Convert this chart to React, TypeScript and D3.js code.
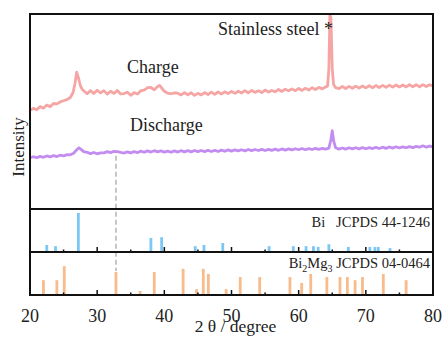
import { useEffect, useRef } from "react";
import * as d3 from "d3";

// XRD patterns, [2θ, intensity (a.u.)]
const chargePattern: [number, number][] = [
    [20.0, 50.6], [20.5, 51.6], [21.0, 50.9], [21.5, 52.5], [22.0, 51.7], [22.5, 53.3], [23.0, 52.5],
    [23.5, 54.1], [24.0, 53.9], [24.5, 54.9], [25.0, 55.5], [25.5, 56.1], [26.0, 57.2], [26.4, 59.6],
    [26.7, 64.5], [26.95, 70.2], [27.2, 67.5], [27.5, 63.2], [27.8, 61.3], [28.2, 60.0], [28.5, 59.1],
    [29.0, 60.7], [29.5, 59.2], [30.0, 60.9], [30.5, 59.5], [31.0, 60.7], [31.5, 58.9], [32.0, 60.4],
    [32.5, 59.3], [33.0, 60.8], [33.5, 59.0], [34.0, 59.2], [34.5, 59.9], [35.0, 58.3], [35.5, 59.7],
    [36.0, 59.0], [36.5, 60.7], [37.0, 61.0], [37.5, 62.2], [38.0, 62.3], [38.5, 61.1], [39.0, 62.8],
    [39.3, 63.4], [39.7, 61.6], [40.0, 60.4], [40.5, 59.4], [41.0, 59.1], [41.5, 59.5], [42.0, 59.4],
    [42.5, 58.5], [43.0, 59.7], [43.5, 58.6], [44.0, 59.6], [44.5, 58.3], [45.0, 59.3], [45.5, 58.5],
    [46.0, 59.7], [46.5, 58.7], [47.0, 59.9], [47.5, 58.8], [48.0, 60.0], [48.5, 59.0], [49.0, 60.1],
    [49.5, 59.2], [50.0, 60.3], [50.5, 59.3], [51.0, 60.4], [51.5, 59.5], [52.0, 60.7], [52.5, 59.6],
    [53.0, 60.8], [53.5, 59.8], [54.0, 60.6], [54.5, 59.7], [55.0, 61.0], [55.5, 60.0], [56.0, 60.8],
    [56.5, 60.1], [57.0, 61.3], [57.5, 60.3], [58.0, 61.4], [58.5, 60.6], [59.0, 61.6], [59.5, 60.7],
    [60.0, 61.8], [60.5, 60.8], [61.0, 61.9], [61.5, 61.0], [62.0, 62.2], [62.5, 61.3], [63.0, 62.4],
    [63.5, 61.6], [64.0, 62.6], [64.3, 63.0], [64.5, 72.0], [64.65, 100], [64.8, 98.0], [65.0, 72.0],
    [65.2, 63.8], [65.5, 62.2], [66.0, 61.7], [66.5, 62.8], [67.0, 61.8], [67.5, 62.9], [68.0, 61.9],
    [68.5, 63.0], [69.0, 62.0], [69.5, 63.1], [70.0, 62.1], [70.5, 63.2], [71.0, 62.2], [71.5, 63.3],
    [72.0, 62.3], [72.5, 63.4], [73.0, 62.4], [73.5, 63.5], [74.0, 62.5], [74.5, 63.6], [75.0, 62.6],
    [75.5, 63.6], [76.0, 62.6], [76.5, 63.7], [77.0, 62.7], [77.5, 63.7], [78.0, 62.7], [78.5, 63.8],
    [79.0, 62.8], [79.5, 63.7], [80.0, 63.1],
];

const dischargePattern: [number, number][] = [
    [20.0, 26.3], [20.5, 26.8], [21.0, 26.3], [21.5, 27.0], [22.0, 26.5], [22.5, 27.2], [23.0, 26.7],
    [23.5, 27.4], [24.0, 26.9], [24.5, 27.6], [25.0, 27.2], [25.5, 27.9], [26.0, 27.8], [26.5, 28.6],
    [26.9, 30.2], [27.3, 31.4], [27.6, 30.6], [28.0, 29.4], [28.5, 29.1], [29.0, 28.4], [29.5, 29.0],
    [30.0, 28.3], [30.5, 28.8], [31.0, 28.8], [31.5, 29.4], [32.0, 28.9], [32.5, 29.6], [33.0, 29.4],
    [33.5, 29.0], [34.0, 28.7], [34.5, 29.3], [35.0, 28.8], [35.5, 29.4], [36.0, 28.9], [36.5, 29.7],
    [37.0, 29.1], [37.5, 29.8], [38.0, 29.2], [38.5, 29.9], [39.0, 29.3], [39.5, 29.8], [40.0, 29.2],
    [40.5, 29.7], [41.0, 29.1], [41.5, 29.8], [42.0, 29.2], [42.5, 29.9], [43.0, 29.3], [43.5, 29.9],
    [44.0, 29.3], [44.5, 30.0], [45.0, 29.4], [45.5, 30.0], [46.0, 29.4], [46.5, 30.1], [47.0, 29.5],
    [47.5, 30.1], [48.0, 29.5], [48.5, 30.2], [49.0, 29.6], [49.5, 30.3], [50.0, 29.7], [50.5, 30.3],
    [51.0, 29.8], [51.5, 30.4], [52.0, 29.8], [52.5, 30.5], [53.0, 29.9], [53.5, 30.5], [54.0, 30.0],
    [54.5, 30.6], [55.0, 30.0], [55.5, 30.6], [56.0, 30.1], [56.5, 30.7], [57.0, 30.1], [57.5, 30.8],
    [58.0, 30.2], [58.5, 30.8], [59.0, 30.3], [59.5, 30.9], [60.0, 30.4], [60.5, 31.0], [61.0, 30.4],
    [61.5, 31.0], [62.0, 30.5], [62.5, 31.1], [63.0, 30.6], [63.5, 31.1], [64.0, 30.7], [64.5, 31.2],
    [64.8, 35.5], [65.0, 40.2], [65.2, 35.0], [65.5, 31.4], [66.0, 30.7], [66.5, 31.3], [67.0, 30.7],
    [67.5, 31.4], [68.0, 30.8], [68.5, 31.4], [69.0, 30.8], [69.5, 31.5], [70.0, 30.9], [70.5, 31.5],
    [71.0, 31.0], [71.5, 31.6], [72.0, 31.0], [72.5, 31.7], [73.0, 31.1], [73.5, 31.8], [74.0, 31.2],
    [74.5, 31.9], [75.0, 31.3], [75.5, 31.9], [76.0, 31.4], [76.5, 32.0], [77.0, 31.5], [77.5, 32.1],
    [78.0, 31.7], [78.5, 32.4], [79.0, 31.7], [79.5, 32.3], [80.0, 31.9],
];

// reference cards: 2θ and relative intensity
const biPositions = [22.5, 23.8, 27.2, 38.0, 39.6, 44.6, 45.9, 48.7, 55.6, 59.2, 61.1, 62.2, 62.9, 64.5, 67.4, 70.6, 71.35, 71.85, 73.6];
const biIntensity = [18, 15, 100, 36, 38, 15, 18, 23, 15, 15, 15, 15, 13, 20, 13, 13, 13, 13, 10];

const bi2mg3Positions = [22.0, 24.0, 25.1, 32.8, 36.4, 38.5, 42.8, 44.8, 45.8, 46.55, 49.2, 51.3, 54.2, 58.7, 60.45, 61.8, 64.2, 66.15, 67.25, 68.4, 69.5, 72.6, 76.0];
const bi2mg3Intensity = [38, 38, 74, 59, 10, 59, 67, 15, 67, 54, 15, 46, 46, 46, 31, 54, 46, 46, 46, 38, 46, 54, 38];

const xTicks = [20, 30, 40, 50, 60, 70, 80];
const minorTicks = [25, 35, 45, 55, 65, 75];
const markerAngle = 32.8;

const W = 443;
const H = 338;
const left = 30;
const right = 433;
const top = 14;
const panel1Bottom = 209;
const panel2Bottom = 252;
const panel3Bottom = 295;

const font = "'Liberation Serif', 'Times New Roman', serif";

const App = () => {
    const ref = useRef<SVGSVGElement>(null);

    useEffect(() => {
        if (!ref.current) return;
        const svg = d3.select(ref.current);
        svg.selectAll("*").remove();

        const x = d3.scaleLinear().domain([20, 80]).range([left, right]);
        const yTop = d3.scaleLinear().domain([0, 100]).range([panel1Bottom, top]);
        // stick patterns share one intensity scale, 100 -> 39px
        const stickH = d3.scaleLinear().domain([0, 100]).range([0, 39]);

        svg.append("defs")
            .append("clipPath")
            .attr("id", "plotClip")
            .append("rect")
            .attr("x", left)
            .attr("y", top)
            .attr("width", right - left)
            .attr("height", panel1Bottom - top);

        const line = d3
            .line<[number, number]>()
            .x((d) => x(d[0]))
            .y((d) => yTop(d[1]));

        const curves = [
            { data: chargePattern, color: "#f6a5a5" },
            { data: dischargePattern, color: "#c38cf1" },
        ];
        curves.forEach((c) => {
            svg.append("path")
                .datum(c.data)
                .attr("clip-path", "url(#plotClip)")
                .attr("fill", "none")
                .attr("stroke", c.color)
                .attr("stroke-width", 2.8)
                .attr("stroke-linejoin", "round")
                .attr("d", line);
        });

        // dashed guide at 32.8°
        const dischargeAt = dischargePattern.find((d) => d[0] === 33.0)![1];
        const barIdx = bi2mg3Positions.indexOf(markerAngle);
        svg.append("line")
            .attr("x1", x(markerAngle))
            .attr("x2", x(markerAngle))
            .attr("y1", yTop(dischargeAt) + 4)
            .attr("y2", panel3Bottom - stickH(bi2mg3Intensity[barIdx]) - 1)
            .attr("stroke", "#a8a8a8")
            .attr("stroke-width", 1.3)
            .attr("stroke-dasharray", "5,3");

        const sticks = [
            { pos: biPositions, int: biIntensity, base: panel2Bottom, color: "#7cc7f4" },
            { pos: bi2mg3Positions, int: bi2mg3Intensity, base: panel3Bottom, color: "#f7bb8c" },
        ];
        sticks.forEach((s) => {
            svg.append("g")
                .selectAll("rect")
                .data(s.pos)
                .join("rect")
                .attr("x", (d) => x(d) - 1.4)
                .attr("width", 2.8)
                .attr("y", (d, i) => s.base - stickH(s.int[i]))
                .attr("height", (d, i) => stickH(s.int[i]))
                .attr("fill", s.color);

            // inward ticks on the bottom axis of each card panel
            const g = svg.append("g");
            g.selectAll(".major")
                .data(xTicks.slice(1, -1))
                .join("line")
                .attr("x1", (d) => x(d))
                .attr("x2", (d) => x(d))
                .attr("y1", s.base)
                .attr("y2", s.base - 5)
                .attr("stroke", "#111")
                .attr("stroke-width", 1.5);
            g.selectAll(".minor")
                .data(minorTicks)
                .join("line")
                .attr("x1", (d) => x(d))
                .attr("x2", (d) => x(d))
                .attr("y1", s.base)
                .attr("y2", s.base - 2.5)
                .attr("stroke", "#111")
                .attr("stroke-width", 1.5);
        });

        // frames
        [
            [top, panel1Bottom],
            [panel1Bottom, panel2Bottom],
            [panel2Bottom, panel3Bottom],
        ].forEach(([y0, y1]) => {
            svg.append("rect")
                .attr("x", left)
                .attr("y", y0)
                .attr("width", right - left)
                .attr("height", y1 - y0)
                .attr("fill", "none")
                .attr("stroke", "#111")
                .attr("stroke-width", 2);
        });

        const text = svg.append("g").attr("font-family", font).attr("fill", "#222");

        // x tick labels
        text.selectAll(".xt")
            .data(xTicks)
            .join("text")
            .attr("x", (d) => x(d))
            .attr("y", 322)
            .attr("text-anchor", "middle")
            .attr("font-size", 18)
            .text((d) => d);

        text.append("text")
            .attr("x", (left + right) / 2 + 4)
            .attr("y", 332)
            .attr("text-anchor", "middle")
            .attr("font-size", 17.5)
            .text("2 θ / degree");

        text.append("text")
            .attr("transform", "translate(24,147) rotate(-90)")
            .attr("text-anchor", "middle")
            .attr("font-size", 17)
            .text("Intensity");

        text.append("text").attr("x", 218).attr("y", 35).attr("font-size", 18).text("Stainless steel *");
        text.append("text").attr("x", 127).attr("y", 73).attr("font-size", 18).text("Charge");
        text.append("text").attr("x", 130).attr("y", 131).attr("font-size", 18).text("Discharge");

        text.append("text")
            .attr("x", 430)
            .attr("y", 227)
            .attr("text-anchor", "end")
            .attr("font-size", 14.5)
            .attr("xml:space", "preserve")
            .text("Bi   JCPDS 44-1246");

        const lbl = text.append("text").attr("x", 430).attr("y", 268).attr("text-anchor", "end").attr("font-size", 14.5);
        lbl.append("tspan").text("Bi");
        lbl.append("tspan").attr("font-size", 10).attr("dy", 3.5).text("2");
        lbl.append("tspan").attr("dy", -3.5).text("Mg");
        lbl.append("tspan").attr("font-size", 10).attr("dy", 3.5).text("3");
        lbl.append("tspan").attr("dy", -3.5).text(" JCPDS 04-0464");
    }, []);

    return (
        <svg
            ref={ref}
            width={W}
            height={H}
            style={{ position: "absolute", left: 0, top: 0, background: "#fff" }}
        />
    );
};

export default App;
